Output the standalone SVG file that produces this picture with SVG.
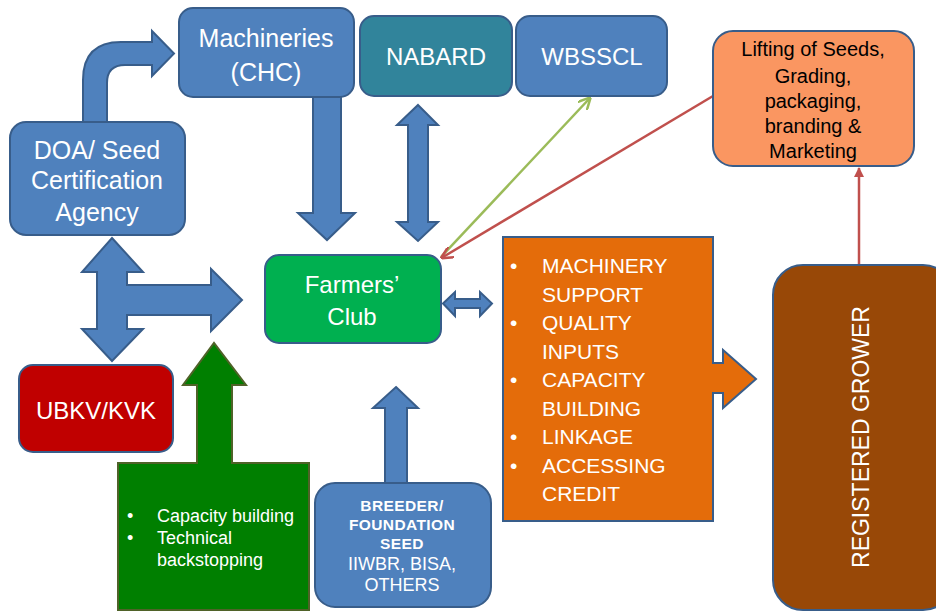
<svg xmlns="http://www.w3.org/2000/svg" width="936" height="612" viewBox="0 0 936 612">
<defs>
<style>
.b{fill:#4F81BD;stroke:#385D8A;stroke-width:2}
.t{font-family:"Liberation Sans",Arial,sans-serif;fill:#fff;text-anchor:middle}
.l{font-family:"Liberation Sans",Arial,sans-serif;fill:#fff}
.ln{fill:none;stroke-width:2.5}
</style>
<marker id="ag" viewBox="0 0 10 10" refX="8" refY="5" markerWidth="5" markerHeight="5" orient="auto"><path d="M0,0 L10,5 L0,10" fill="none" stroke="#9BBB59" stroke-width="2"/></marker>
<marker id="ar" viewBox="0 0 10 10" refX="8" refY="5" markerWidth="5" markerHeight="5" orient="auto"><path d="M0,0 L10,5 L0,10" fill="none" stroke="#C0504D" stroke-width="2"/></marker>
<marker id="ar2" viewBox="0 0 10 10" refX="9" refY="5" markerWidth="4" markerHeight="4" orient="auto"><path d="M0,0 L10,5 L0,10 Z" fill="#C0504D"/></marker>
</defs>
<rect width="936" height="612" fill="#fff"/>
<g id="connectors">
<path class="b" d="M83,123 L83,80 Q83,42 121,42 L152,42 L152,31 L174,53.5 L152,76 L152,65 L125,65 Q107,65 107,83 L107,123 Z"/>
<polygon class="b" points="313,96 341,96 341,213 355,213 327,240 298,213 313,213"/>
<polygon class="b" points="418,105 438,125 428,125 428,222 438,222 418,241 397,222 408,222 408,125 397,125"/>
<polygon class="b" points="112,238 143,272 127,272 127,285 211,285 211,269 242,300 211,331 211,315 127,315 127,329 143,329 112,361 82,329 97,329 97,272 82,272"/>
<polygon class="b" points="443,303.5 455,292 455,299 480,299 480,292 492,303.5 480,316 480,308 455,308 455,316"/>
<polygon class="b" points="396,387 418,408 407,408 407,484 385,484 385,408 373,408"/>
<line class="ln" x1="441" y1="257" x2="589" y2="99" stroke="#9BBB59" marker-end="url(#ag)"/>
<line class="ln" x1="713" y1="96" x2="443" y2="257" stroke="#C0504D" marker-end="url(#ar)"/>
<line class="ln" x1="859" y1="264" x2="859" y2="168" stroke="#C0504D" marker-end="url(#ar2)"/>
</g>
<g id="doa">
<rect class="b" x="10" y="122" width="175" height="113" rx="16"/>
<text class="t" font-size="25" x="97" y="159">DOA/ Seed</text>
<text class="t" font-size="25" x="97" y="189">Certification</text>
<text class="t" font-size="25" x="97" y="221">Agency</text>
</g>
<g id="machineries">
<rect class="b" x="179" y="8" width="175" height="89" rx="14"/>
<text class="t" font-size="25" x="266" y="47">Machineries</text>
<text class="t" font-size="25" x="266" y="81">(CHC)</text>
</g>
<g id="nabard">
<rect x="360" y="16" width="152" height="80" rx="14" fill="#31849B" stroke="#385D8A" stroke-width="2"/>
<text class="t" font-size="24" x="436" y="65">NABARD</text>
</g>
<g id="wbsscl">
<rect class="b" x="516" y="16" width="151" height="80" rx="14"/>
<text class="t" font-size="24" x="592" y="65">WBSSCL</text>
</g>
<g id="lifting">
<rect x="713" y="31" width="201" height="135" rx="20" fill="#FA9661" stroke="#385D8A" stroke-width="2"/>
<g font-family="Liberation Sans,Arial,sans-serif" font-size="20" fill="#000" text-anchor="middle">
<text x="813" y="56">Lifting of Seeds,</text>
<text x="813" y="83">Grading,</text>
<text x="813" y="108">packaging,</text>
<text x="813" y="133">branding &amp;</text>
<text x="813" y="158">Marketing</text>
</g>
</g>
<g id="farmers-club">
<rect x="265" y="255" width="176" height="88" rx="14" fill="#00B050" stroke="#385D8A" stroke-width="2"/>
<text class="t" font-size="24" x="352" y="293">Farmers’</text>
<text class="t" font-size="24" x="352" y="325">Club</text>
</g>
<g id="support">
<polygon points="503,237 713,237 713,363 723,363 723,350 756,379 723,408 723,393 713,393 713,521 503,521" fill="#E46C0A" stroke="#385D8A" stroke-width="2"/>
<g class="l" font-size="21">
<text x="510" y="273">•</text><text x="542" y="273">MACHINERY</text>
<text x="542" y="302">SUPPORT</text>
<text x="510" y="330">•</text><text x="542" y="330">QUALITY</text>
<text x="542" y="359">INPUTS</text>
<text x="510" y="387">•</text><text x="542" y="387">CAPACITY</text>
<text x="542" y="416">BUILDING</text>
<text x="510" y="444">•</text><text x="542" y="444">LINKAGE</text>
<text x="510" y="473">•</text><text x="542" y="473">ACCESSING</text>
<text x="542" y="501">CREDIT</text>
</g>
</g>
<g id="registered-grower">
<rect x="773" y="265" width="180" height="345" rx="30" fill="#984807" stroke="#385D8A" stroke-width="2"/>
<text class="t" font-size="23" x="860" y="437" transform="rotate(-90 860 437)" dy="9">REGISTERED GROWER</text>
</g>
<g id="ubkv">
<rect x="19" y="365" width="154" height="87" rx="14" fill="#C00000" stroke="#385D8A" stroke-width="2"/>
<text class="t" font-size="24" x="96" y="419">UBKV/KVK</text>
</g>
<g id="capacity">
<polygon points="118,463 197,463 197,385 183,385 214,343 246,385 232,385 232,463 309,463 309,610 118,610" fill="#007F00" stroke="#4F6228" stroke-width="2"/>
<g class="l" font-size="18">
<text x="127" y="522">•</text><text x="157" y="522">Capacity building</text>
<text x="127" y="544">•</text><text x="157" y="544">Technical</text>
<text x="157" y="566">backstopping</text>
</g>
</g>
<g id="breeder">
<rect class="b" x="315" y="483" width="176" height="124" rx="20"/>
<g class="t" font-size="15.5" font-weight="bold" letter-spacing="0.4">
<text x="402" y="511">BREEDER/</text>
<text x="402" y="530">FOUNDATION</text>
<text x="402" y="549">SEED</text>
</g>
<text class="t" font-size="18" x="402" y="570">IIWBR, BISA,</text>
<text class="t" font-size="18" x="402" y="591">OTHERS</text>
</g>
</svg>
